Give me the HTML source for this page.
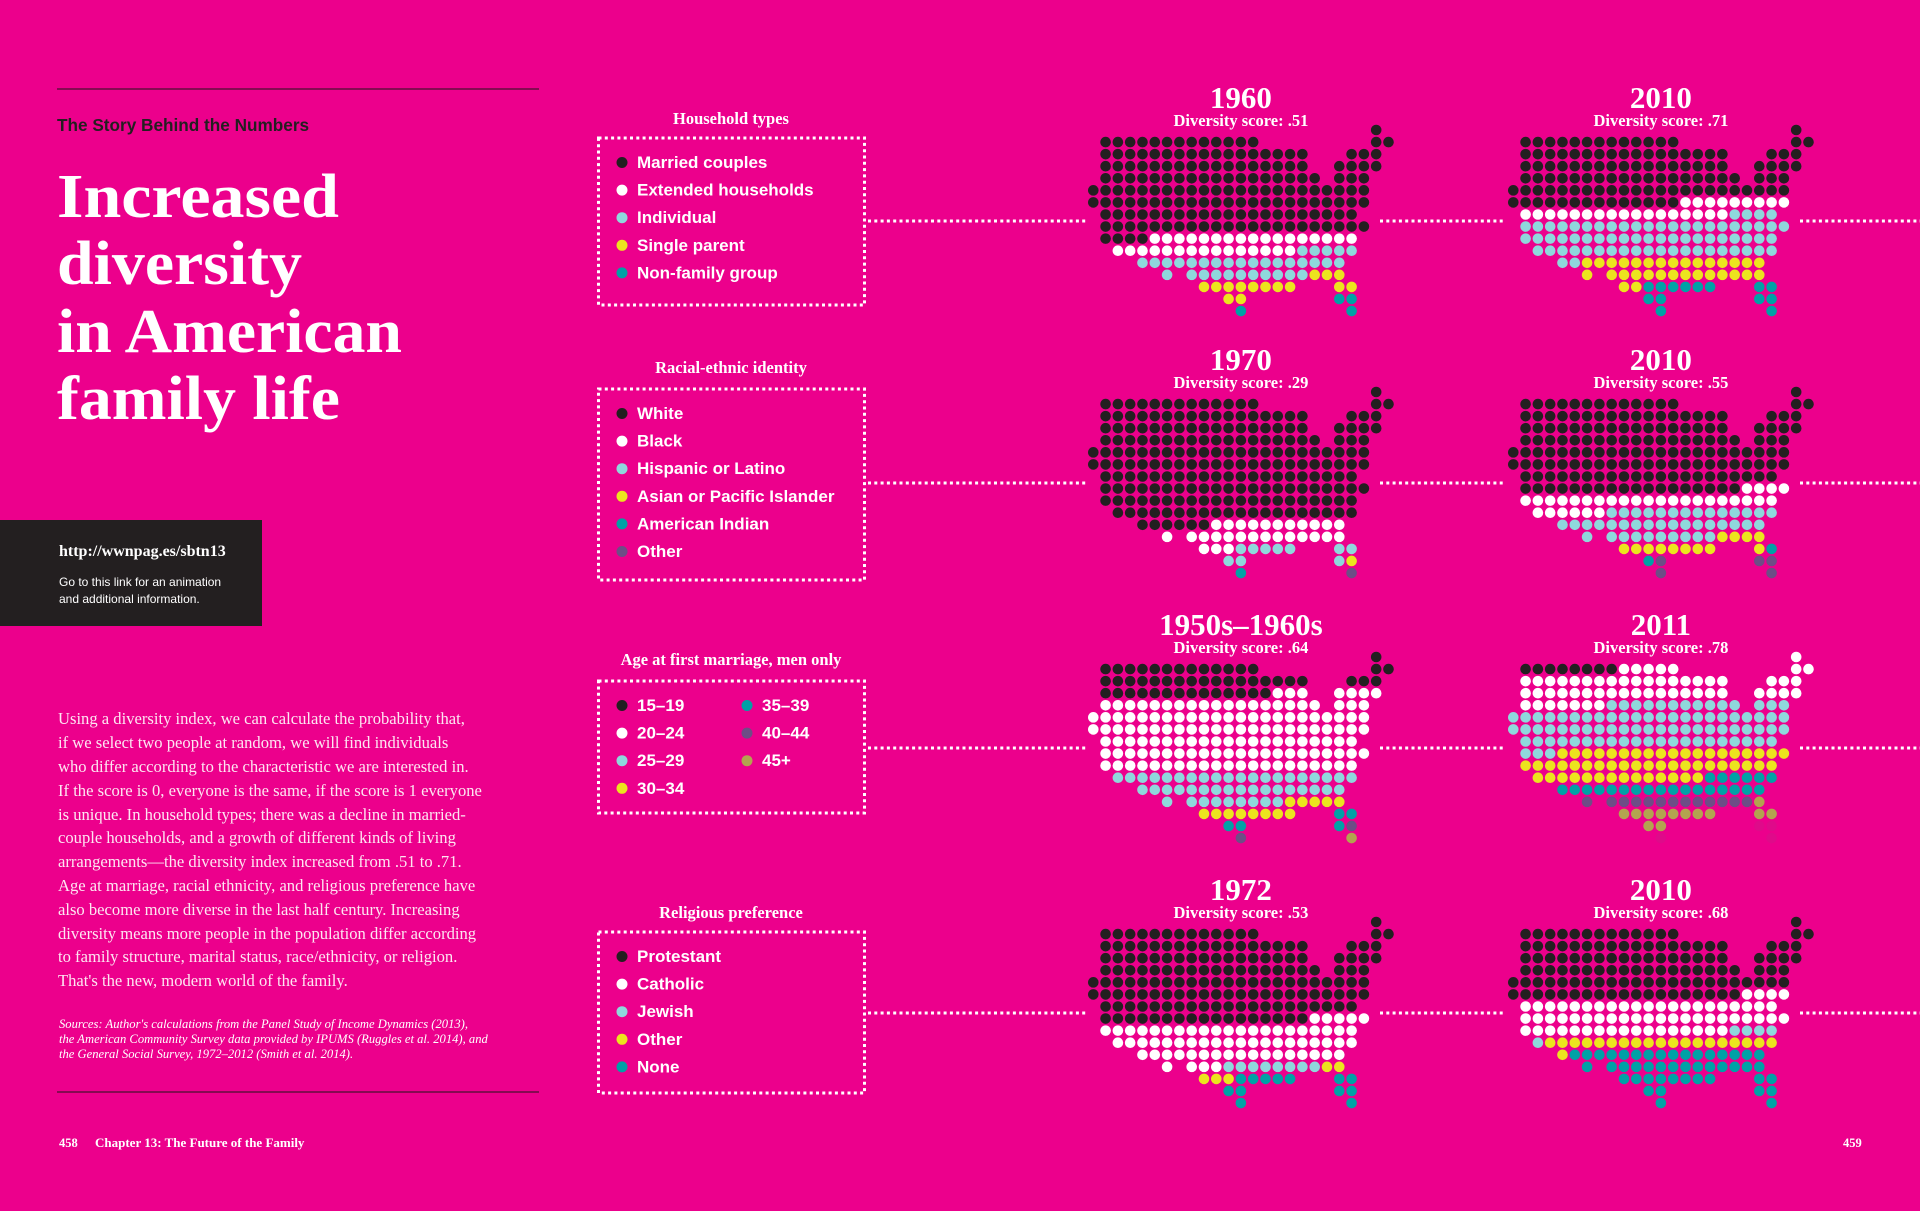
<!DOCTYPE html>
<html><head><meta charset="utf-8"><title>Increased diversity in American family life</title>
<style>
html,body{margin:0;padding:0;background:#ec008c;}
svg{display:block;}
.serif{font-family:"Liberation Serif",serif;}
.sans{font-family:"Liberation Sans",sans-serif;}
</style></head>
<body>
<svg id="page" width="1920" height="1211" viewBox="0 0 1920 1211" xmlns="http://www.w3.org/2000/svg">
<rect x="0" y="0" width="1920" height="1211" fill="#ec008c"/>
<line x1="57" y1="89" x2="539" y2="89" stroke="#4a1030" stroke-width="1.2"/>
<text x="57" y="131" class="sans" font-size="17.2" font-weight="bold" fill="#231f20">The Story Behind the Numbers</text>
<g class="serif" font-size="62" font-weight="bold" fill="#fff">
<text x="57" y="217" textLength="282" lengthAdjust="spacingAndGlyphs">Increased</text>
<text x="57" y="284" textLength="245" lengthAdjust="spacingAndGlyphs">diversity</text>
<text x="57" y="352" textLength="345" lengthAdjust="spacingAndGlyphs">in American</text>
<text x="57" y="419" textLength="283" lengthAdjust="spacingAndGlyphs">family life</text>
</g>
<rect x="0" y="520" width="262" height="106" fill="#231f20"/>
<text x="59" y="556" class="serif" font-size="16" font-weight="bold" fill="#fff">http://wwnpag.es/sbtn13</text>
<text x="59" y="586" class="sans" font-size="12" fill="#fff">Go to this link for an animation</text>
<text x="59" y="603" class="sans" font-size="12" fill="#fff">and additional information.</text>
<g class="serif" font-size="16.6" fill="#fde6f2">
<text x="58" y="724">Using a diversity index, we can calculate the probability that,</text>
<text x="58" y="748">if we select two people at random, we will find individuals</text>
<text x="58" y="772">who differ according to the characteristic we are interested in.</text>
<text x="58" y="796">If the score is 0, everyone is the same, if the score is 1 everyone</text>
<text x="58" y="820">is unique. In household types; there was a decline in married-</text>
<text x="58" y="843">couple households, and a growth of different kinds of living</text>
<text x="58" y="867">arrangements—the diversity index increased from .51 to .71.</text>
<text x="58" y="891">Age at marriage, racial ethnicity, and religious preference have</text>
<text x="58" y="915">also become more diverse in the last half century. Increasing</text>
<text x="58" y="939">diversity means more people in the population differ according</text>
<text x="58" y="962">to family structure, marital status, race/ethnicity, or religion.</text>
<text x="58" y="986">That's the new, modern world of the family.</text>
</g>
<g class="serif" font-size="12.6" font-style="italic" fill="#fff">
<text x="59" y="1028">Sources: Author's calculations from the Panel Study of Income Dynamics (2013),</text>
<text x="59" y="1043">the American Community Survey data provided by IPUMS (Ruggles et al. 2014), and</text>
<text x="59" y="1058">the General Social Survey, 1972–2012 (Smith et al. 2014).</text>
</g>
<line x1="57" y1="1092" x2="539" y2="1092" stroke="#4a1030" stroke-width="1.2"/>
<text x="59" y="1147" class="serif" font-size="12.5" font-weight="bold" fill="#fff">458</text>
<text x="95" y="1147" class="serif" font-size="13" font-weight="bold" fill="#fff">Chapter 13: The Future of the Family</text>
<text x="1843" y="1147" class="serif" font-size="12.5" font-weight="bold" fill="#fff">459</text>
<g id="charts"></g>
</svg>
<script>
// ---- data ----
const panelTitles = ["Household types", "Racial-ethnic identity", "Age at first marriage, men only", "Religious preference"];
const householdLabels = ["Married couples", "Extended households", "Individual", "Single parent", "Non-family group"];
const raceLabels = ["White", "Black", "Hispanic or Latino", "Asian or Pacific Islander", "American Indian", "Other"];
const ageLabels = ["15–19", "20–24", "25–29", "30–34", "35–39", "40–44", "45+"];
const religionLabels = ["Protestant", "Catholic", "Jewish", "Other", "None"];
const leftYears = ["1960", "1970", "1950s–1960s", "1972"];
const rightYears = ["2010", "2010", "2011", "2010"];
const leftScores = [".51", ".29", ".64", ".53"];
const rightScores = [".71", ".55", ".78", ".68"];
// dot counts per category (order matches legend; extra last entry in age = unclassified)
const household1960 = [171, 32, 33, 15, 4];
const household2010 = [115, 26, 69, 31, 14];
const race1970 = [214, 28, 10, 1, 1, 1];
const race2010 = [163, 31, 41, 13, 2, 5];
const age1950s = [50, 138, 46, 13, 5, 2, 1, 0];
const age2011 = [8, 56, 84, 54, 23, 13, 13, 4];
const religion1972 = [162, 67, 8, 5, 13];
const religion2010 = [120, 64, 5, 20, 46];

const palette = ["#231f20", "#ffffff", "#8fd8dc", "#ece41e", "#00a1a6", "#6e4d86", "#b3a34f", "#df0a8a"];
const shape = [[[23,23]],[[1,13],[23,24]],[[1,17],[21,23]],[[1,17],[20,23]],[[1,18],[20,22]],[[0,22]],[[0,22]],[[1,21]],[[1,22]],[[1,21]],[[2,21]],[[4,20]],[[6,6],[8,20]],[[9,16],[20,21]],[[11,12],[20,21]],[[12,12],[21,21]]];

const NS = "http://www.w3.org/2000/svg";
const root = document.getElementById("charts");
function el(tag, attrs, parent) {
  const e = document.createElementNS(NS, tag);
  for (const k in attrs) e.setAttribute(k, attrs[k]);
  (parent || root).appendChild(e);
  return e;
}
const pitchX = 12.3, pitchY = 12.07, rDot = 5.3;
const mapTops = [130, 392, 657, 922];
const leftX0 = 1093.3, rightX0 = 1513.3;
function xScale(x0, c) { return x0 + c * pitchX; }
function yScale(y0, r) { return y0 + r * pitchY; }

function cells() {
  const out = [];
  const order = [1, 0];
  for (let r = 2; r < shape.length; r++) order.push(r);
  order.forEach(r => shape[r].forEach(([a, b]) => { for (let c = a; c <= b; c++) out.push([r, c]); }));
  return out;
}
const cellList = cells();

function drawMap(x0, y0, counts, name, title, score) {
  const g = el("g", {});
  
  
  const cx = x0 + 12 * pitchX;
  const t = el("text", { x: cx, y: y0 - 22, "text-anchor": "middle", "font-family": "Liberation Serif, serif", "font-weight": "bold", "font-size": "31", fill: "#fff" }, g);
  t.textContent = title;
  
  
  const s = el("text", { x: cx, y: y0 - 4, "text-anchor": "middle", "font-family": "Liberation Serif, serif", "font-weight": "bold", "font-size": "16.5", fill: "#fff" }, g);
  s.textContent = "Diversity score: " + score;
  
  
  let i = 0;
  counts.forEach((n, k) => {
    for (let j = 0; j < n && i < cellList.length; j++, i++) {
      const [r, c] = cellList[i];
      const d = el("circle", { cx: xScale(x0, c), cy: yScale(y0, r), r: rDot, fill: palette[k] }, g);
      
      
    }
  });
}

function dotted(x1, x2, y, name) {
  const l = el("line", { x1, y1: y, x2, y2: y, stroke: "#fff", "stroke-width": 3, "stroke-dasharray": "3 3.3" });
  
  
}

function legend(top, boxTop, boxBottom, titleText, labels, twoCol, name) {
  const g = el("g", {});
  
  
  const t = el("text", { x: 731, y: top, "text-anchor": "middle", "font-family": "Liberation Serif, serif", "font-weight": "bold", "font-size": "16.5", fill: "#fff" }, g);
  t.textContent = titleText;
  
  
  const b = el("rect", { x: 598.5, y: boxTop, width: 266, height: boxBottom - boxTop, fill: "none", stroke: "#fff", "stroke-width": 3, "stroke-dasharray": "3 3.3" }, g);
  
  
  labels.forEach((lab, k) => {
    let col = 0, row = k;
    if (twoCol && k >= 4) { col = 1; row = k - 4; }
    const y = boxTop + 30 + row * 27.6;
    const dx = col ? 747 : 622;
    const c = el("circle", { cx: dx, cy: y - 5.5, r: 5.5, fill: palette[k] }, g);
    
    
    const tx = el("text", { x: dx + 15, y: y, "font-family": "Liberation Sans, sans-serif", "font-weight": "bold", "font-size": "17", fill: "#fff" }, g);
    tx.textContent = lab;
    
    
  });
}

const leftData = [household1960, race1970, age1950s, religion1972];
const rightData = [household2010, race2010, age2011, religion2010];
const legendLabels = [householdLabels, raceLabels, ageLabels, religionLabels];
const legendTitleY = [124, 373, 665, 918];
const boxTops = [138, 389, 681, 932];
const boxBottoms = [305, 580, 813, 1093];

for (let p = 0; p < 4; p++) {
  const y0 = mapTops[p];
  const ly = y0 + 91;
  dotted(868, 1088, ly, "connector-legend-to-map");
  dotted(1380, 1505, ly, "connector-map-to-map");
  dotted(1800, 1920, ly, "connector-map-to-edge");
  legend(legendTitleY[p], boxTops[p], boxBottoms[p], panelTitles[p], legendLabels[p], p === 2, "legend-" + p);
  drawMap(leftX0, y0, leftData[p], "map-left-" + p, leftYears[p], leftScores[p]);
  drawMap(rightX0, y0, rightData[p], "map-right-" + p, rightYears[p], rightScores[p]);
}
</script>
</body></html>
